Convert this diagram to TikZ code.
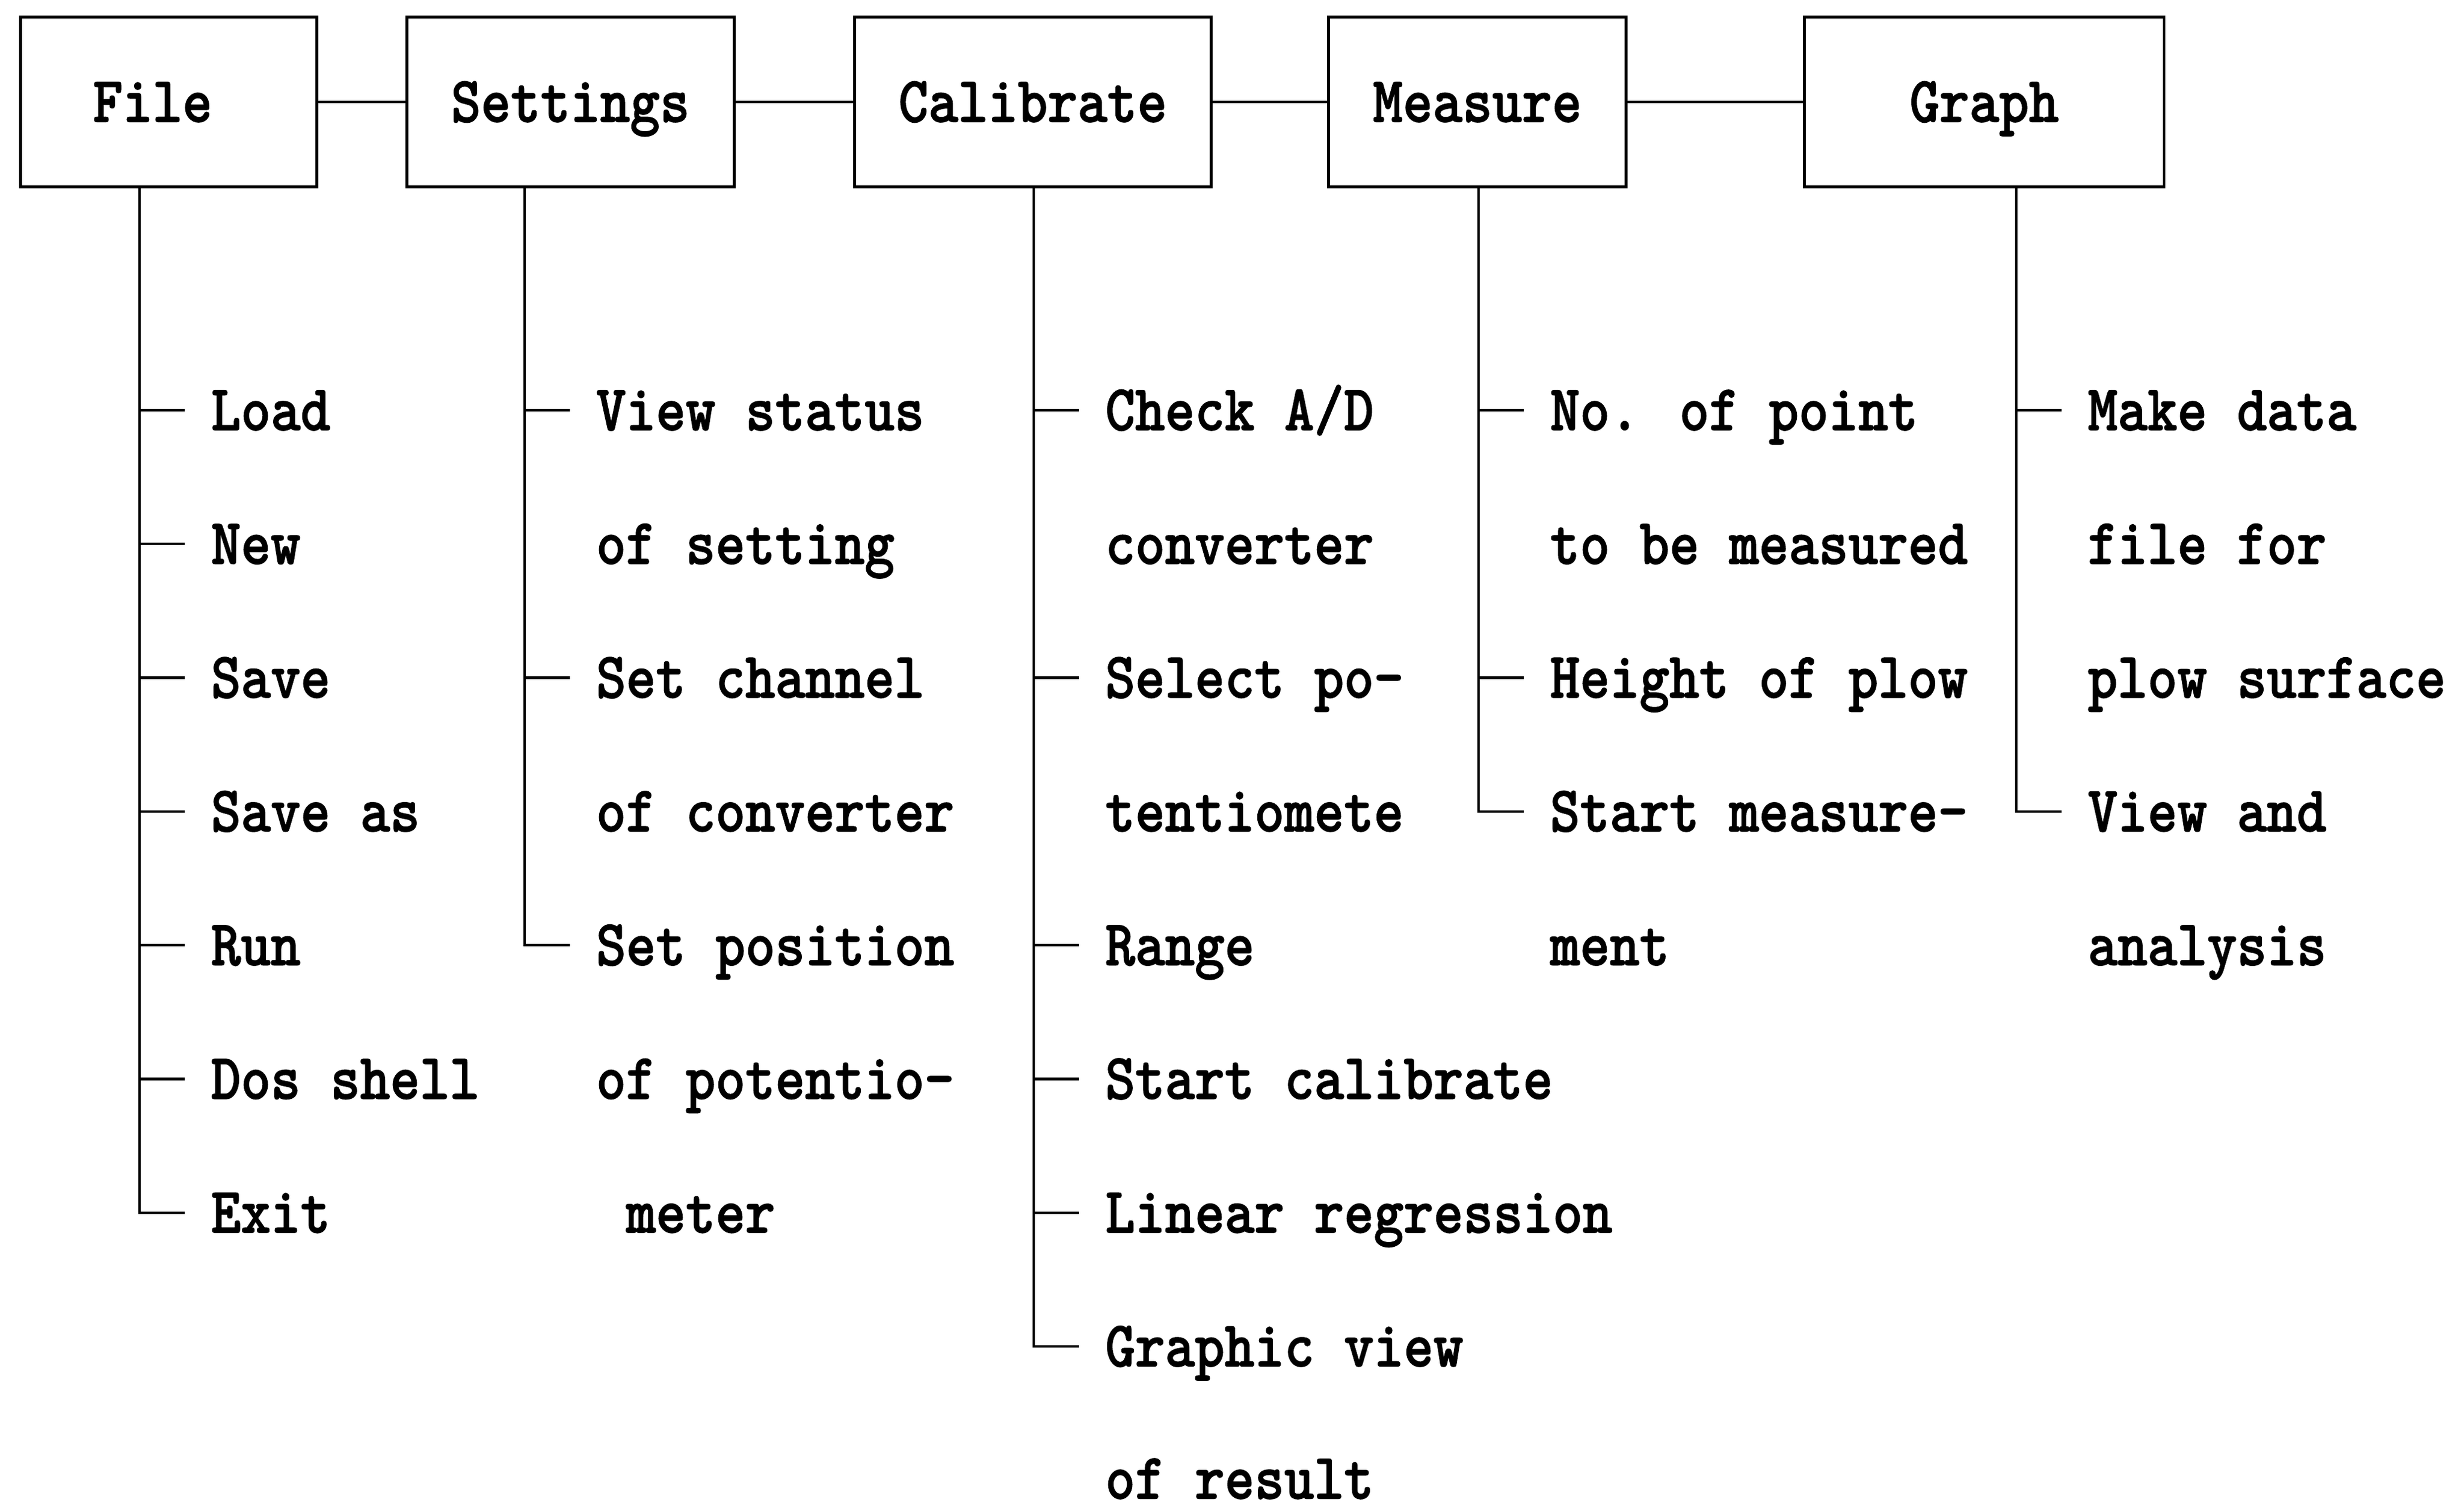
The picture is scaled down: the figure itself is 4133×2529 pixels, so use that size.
\documentclass[tikz,border=0pt]{standalone}
\usepackage{fontspec}
\usepackage{tikz}
\usetikzlibrary{positioning}
\newfontfamily\menuface{lmmonolt10-bold.otf}[FakeStretch=0.87, FakeBold=1.2]
\newcommand{\menufont}{\menuface\fontsize{15.6pt}{18pt}\selectfont}

\begin{document}
\begin{tikzpicture}[x=0.005cm, y=-0.005cm, line width=0.6pt, menu/.style={rectangle, draw=black, line width=0.7pt, minimum height=1.43cm, text height=0.335cm, text depth=0pt, font=\menufont}, item/.style={anchor=west, inner xsep=0.21cm, inner ysep=0pt, text height=0.335cm, text depth=0pt, font=\menufont}]

    \useasboundingbox (0,0) rectangle (4133,2529);

    % Menu bar
    \node[menu, minimum width=2.49cm]   (file)      at (283,171)               {File\hspace*{0.27cm}};
    \node[menu, minimum width=2.745cm]  (settings)  [right=0.73cm of file]     {Settings};
    \node[menu, minimum width=2.995cm]  (calibrate) [right=0.987cm of settings] {Calibrate};
    \node[menu, minimum width=2.5cm]    (measure)   [right=0.96cm of calibrate] {Measure};
    \node[menu, minimum width=3.02cm]   (graph)     [right=1.47cm of measure]  {Graph};

    % Trunks
    \coordinate (ftrunk) at (234,0);
    \coordinate (strunk) at (880,0);
    \coordinate (ctrunk) at (1734,0);
    \coordinate (mtrunk) at (2480,0);
    \coordinate (gtrunk) at (3382,0);

    % File items
    \node[item] (load)   at (310,688)    {Load};
    \node[item] (new)    at (310,912.3)  {New};
    \node[item] (save)   at (310,1136.6) {Save};
    \node[item] (saveas) at (310,1360.9) {Save as};
    \node[item] (run)    at (310,1585.2) {Run};
    \node[item] (dos)    at (310,1809.5) {Dos shell};
    \node[item] (exit)   at (310,2033.8) {Exit};

    % Settings items
    \node[item] (viewstatus)  at (956,688)    {View status};
    \node[item] (ofsetting)   at (956,912.3)  {of setting};
    \node[item] (setchannel)  at (956,1136.6) {Set channel};
    \node[item] (ofconverter) at (956,1360.9) {of converter};
    \node[item] (setposition) at (956,1585.2) {Set position};
    \node[item] (ofpotentio)  at (956,1809.5) {of potentio-};
    \node[item] (meter)       at (956,2033.8) {\phantom{o}meter};

    % Calibrate items
    \node[item] (checkad)     at (1810,688)    {Check A/D};
    \node[item] (converter)   at (1810,912.3)  {converter};
    \node[item] (selectpo)    at (1810,1136.6) {Select po-};
    \node[item] (tentiometer) at (1810,1360.9) {tentiomete};
    \node[item] (range)       at (1810,1585.2) {Range};
    \node[item] (startcal)    at (1810,1809.5) {Start calibrate};
    \node[item] (linreg)      at (1810,2033.8) {Linear regression};
    \node[item] (graphic)     at (1810,2258.1) {Graphic view};
    \node[item] (ofresult)    at (1810,2480) {of result};

    % Measure items
    \node[item] (nopoint)   at (2556,688)    {No. of point};
    \node[item] (tobemeas)  at (2556,912.3)  {to be measured};
    \node[item] (height)    at (2556,1136.6) {Height of plow};
    \node[item] (startmeas) at (2556,1360.9) {Start measure-};
    \node[item] (ment)      at (2556,1585.2) {ment};

    % Graph items
    \node[item] (makedata)    at (3458,688)    {Make data};
    \node[item] (filefor)     at (3458,912.3)  {file for};
    \node[item] (plowsurface) at (3458,1136.6) {plow surface};
    \node[item] (viewand)     at (3458,1360.9) {View and};
    \node[item] (analysis)    at (3458,1585.2) {analysis};

    % Lines ---------------
    \draw (file) -- (settings);
    \draw (settings) -- (calibrate);
    \draw (calibrate) -- (measure);
    \draw (measure) -- (graph);

    \draw (file.south -| ftrunk) |- (exit.west);
    \foreach \n in {load,new,save,saveas,run,dos}
        \draw (\n.west -| ftrunk) -- (\n.west);

    \draw (settings.south -| strunk) |- (setposition.west);
    \foreach \n in {viewstatus,setchannel}
        \draw (\n.west -| strunk) -- (\n.west);

    \draw (calibrate.south -| ctrunk) |- (graphic.west);
    \foreach \n in {checkad,selectpo,range,startcal,linreg}
        \draw (\n.west -| ctrunk) -- (\n.west);

    \draw (measure.south -| mtrunk) |- (startmeas.west);
    \foreach \n in {nopoint,height}
        \draw (\n.west -| mtrunk) -- (\n.west);

    \draw (graph.south -| gtrunk) |- (viewand.west);
    \draw (makedata.west -| gtrunk) -- (makedata.west);

\end{tikzpicture}
\end{document}
